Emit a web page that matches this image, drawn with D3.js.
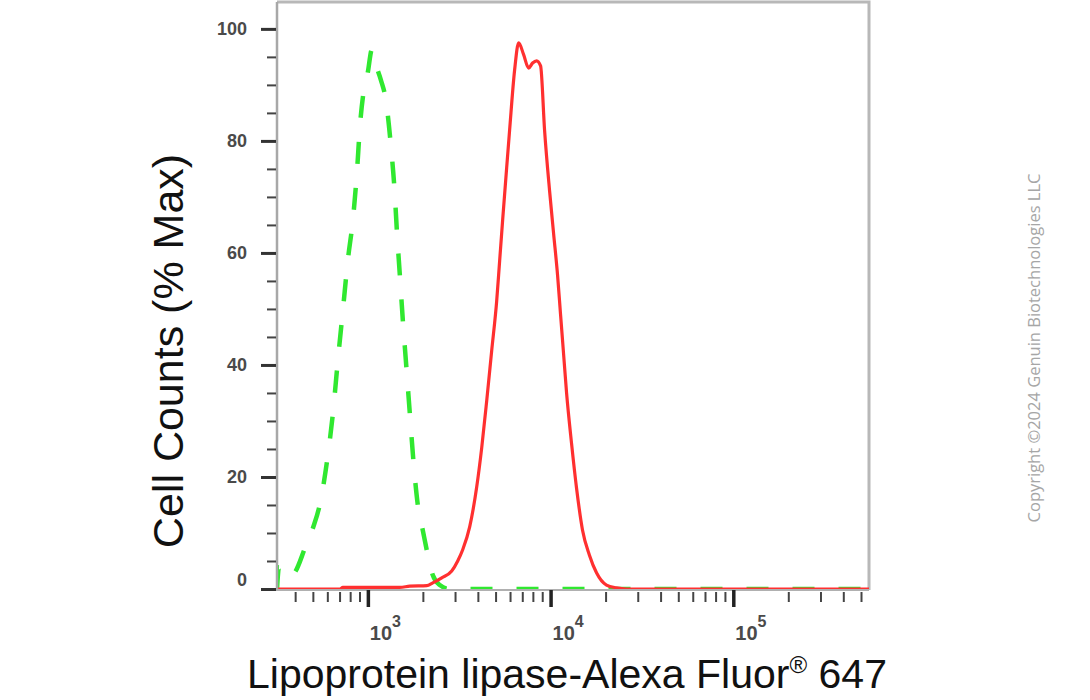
<!DOCTYPE html>
<html>
<head>
<meta charset="utf-8">
<script src="https://cdn.jsdelivr.net/npm/d3@7"></script>
<style>
  html, body { margin: 0; padding: 0; background: #fff; }
  svg { display: block; }
</style>
</head>
<body>
<svg id="chart" width="1090" height="700"></svg>
<script>
// ---------- data ----------
const xDomain = [318.2, 553000];
const yDomain = [0, 104.8];
const yMajorTicks = [0, 20, 40, 60, 80, 100];
const yMinorTicks = [5,10,15,25,30,35,45,50,55,65,70,75,85,90,95];
const xMajorTicks = [1e3, 1e4, 1e5];
const xMajorExponents = ["3", "4", "5"];
const xMinorTicks = [400,500,600,700,800,900,2000,3000,4000,5000,6000,7000,8000,9000,
                     20000,30000,40000,50000,60000,70000,80000,90000,200000,300000,400000,500000];

// isotype control (green dashed): fluorescence intensity, % max
const controlX = [318.2,326.4,347.5,365.5,399.1,452.6,500.6,546.7,597.0,643.9,685.6,730.2,777.5,827.9,870.9,904.4,951.0,
                  1000,1051.6,1106,1177.6,1254,1335.3,1404.9,1440.5,1495.9,1553.5,1613.3,1696.4,1783.5,1876.5,1997.8,
                  2127.5,2265.5,2474.6,2806,3500,5000,8000,12000,20000,40000,80000,150000,300000,553000];
const controlY = [0,3.9,2.5,2.1,3.0,7.3,10.9,15.2,22.7,31.4,40.9,49.8,58.8,65.9,74.3,82.5,89.1,
                  92.3,96.3,93.6,90.9,87.3,79.3,70.4,64.1,56.1,48.0,40.9,31.4,22.1,15.0,10.5,
                  6.1,2.5,0.7,0,0,0,0,0,0,0,0,0,0,0];

// Lipoprotein lipase-Alexa Fluor 647 sample (red solid)
const sampleX = [318.2,703,730,1496,1696,2101,2265,2537,2877,3103,3304,3608,3941,4198,4471,4760,5070,5263,5467,5749,5970,
                 6358,6687,7120,7582,7971,8384,8817,9272,9874,10385,10922,11340,11778,12232,13024,13873,14959,16338,
                 17838,20230,22945,26018,60000,150000,553000];
const sampleY = [0,0,0.3,0.3,0.5,0.6,1.1,2.0,3.2,5.0,7.0,11.1,18.2,25.2,33.6,42.5,51.4,58.6,65.9,75.2,82.0,
                 92.7,97.5,95.4,93.0,93.9,94.3,93.4,81.9,71.1,63.5,56.0,49.0,42.0,35.0,26.0,18.0,10.5,6.0,
                 2.9,0.7,0.2,0,0,0,0];

const xTitle = "Lipoprotein lipase-Alexa Fluor";
const xTitleSup = "®";
const xTitleEnd = " 647";
const yTitle = "Cell Counts (% Max)";
const copyright = "Copyright ©2024 Genuin Biotechnologies LLC";

// ---------- layout ----------
const svg = d3.select("#chart");
const pLeft = 277, pRight = 869, pTop = 2, pBottom = 589;

const x = d3.scaleLog().domain(xDomain).range([pLeft, pRight]);
const y = d3.scaleLinear().domain(yDomain).range([pBottom, pTop]);

// frame (top / right)
svg.append("path")
  .attr("d", `M${pLeft},${pTop}H${pRight}V${pBottom + 1}`)
  .attr("fill", "none").attr("stroke", "#b8b8b8").attr("stroke-width", 3);

// curves
svg.append("clipPath").attr("id", "clip")
  .append("rect").attr("x", pLeft).attr("y", pTop).attr("width", pRight - pLeft).attr("height", pBottom - pTop + 2);

const line = d3.line().x(d => x(d[0])).y(d => y(d[1])).curve(d3.curveMonotoneX);
const g = svg.append("g").attr("clip-path", "url(#clip)");

g.append("path")
  .datum(controlX.map((v, i) => [v, controlY[i]]))
  .attr("d", line)
  .attr("fill", "none").attr("stroke", "#30e830").attr("stroke-width", 4.5)
  .attr("stroke-dasharray", "22 24");

g.append("path")
  .datum(sampleX.map((v, i) => [v, sampleY[i]]))
  .attr("d", line)
  .attr("fill", "none").attr("stroke", "#ff3030").attr("stroke-width", 3.2);

// axis lines
svg.append("line").attr("x1", pLeft).attr("x2", pLeft).attr("y1", pTop).attr("y2", pBottom + 1)
  .attr("stroke", "#a8a8a8").attr("stroke-width", 2.5);
svg.append("line").attr("x1", pLeft - 16).attr("x2", pRight).attr("y1", pBottom + 1).attr("y2", pBottom + 1)
  .attr("stroke", "#b0b0b0").attr("stroke-width", 2);

// y axis
const yMajor = svg.append("g").attr("transform", `translate(${pLeft - 1},0)`)
  .call(d3.axisLeft(y).tickValues(yMajorTicks).tickSize(15).tickPadding(14).tickSizeOuter(0));
yMajor.select(".domain").remove();
yMajor.selectAll(".tick line").attr("stroke", "#333").attr("stroke-width", 3);
yMajor.selectAll(".tick text")
  .attr("fill", "#4a4a4a").attr("font-family", "Liberation Sans, Arial, sans-serif")
  .attr("font-size", 18).attr("font-weight", "bold")
  .attr("dy", d => d === 0 ? "-0.18em" : "0.32em");

const yMinor = svg.append("g").attr("transform", `translate(${pLeft - 1},0)`)
  .call(d3.axisLeft(y).tickValues(yMinorTicks).tickSize(9).tickFormat("").tickSizeOuter(0));
yMinor.select(".domain").remove();
yMinor.selectAll(".tick line").attr("stroke", "#444").attr("stroke-width", 2);

// x axis
const xMajor = svg.append("g").attr("transform", `translate(0,${pBottom + 1})`)
  .call(d3.axisBottom(x).tickValues(xMajorTicks).tickSize(17).tickFormat("").tickSizeOuter(0));
xMajor.select(".domain").remove();
xMajor.selectAll(".tick line").attr("stroke", "#222").attr("stroke-width", 3.5);

const xMinor = svg.append("g").attr("transform", `translate(0,${pBottom + 1})`)
  .call(d3.axisBottom(x).tickValues(xMinorTicks).tickSize(12).tickFormat("").tickSizeOuter(0));
xMinor.select(".domain").remove();
xMinor.selectAll(".tick line").attr("stroke", "#444").attr("stroke-width", 2).attr("y1", 2);

const xl = svg.append("g").selectAll("text").data(xMajorTicks).join("text")
  .attr("x", d => x(d) + 2).attr("y", 640)
  .attr("font-family", "Liberation Sans, Arial, sans-serif").attr("font-size", 20)
  .attr("fill", "#4a4a4a").attr("font-weight", "bold");
xl.append("tspan").text("10");
xl.append("tspan").attr("dy", -13).attr("font-size", 16).text((d, i) => xMajorExponents[i]);

// titles
const xt = svg.append("text")
  .attr("x", 567).attr("y", 688).attr("text-anchor", "middle")
  .attr("font-family", "Liberation Sans, Arial, sans-serif").attr("font-size", 41).attr("fill", "#111");
xt.append("tspan").text(xTitle);
xt.append("tspan").attr("dy", -15).attr("font-size", 24).text(xTitleSup);
xt.append("tspan").attr("dy", 15).text(xTitleEnd);

svg.append("text")
  .attr("transform", "translate(183,351) rotate(-90)")
  .attr("text-anchor", "middle")
  .attr("font-family", "Liberation Sans, Arial, sans-serif").attr("font-size", 43).attr("fill", "#111")
  .text(yTitle);

svg.append("text")
  .attr("transform", "translate(1040,348) rotate(-90)")
  .attr("text-anchor", "middle")
  .attr("font-family", "Open Sans, Noto Sans, sans-serif").attr("font-size", 16.5).attr("fill", "#a6a6a6")
  .text(copyright);
</script>
</body>
</html>
